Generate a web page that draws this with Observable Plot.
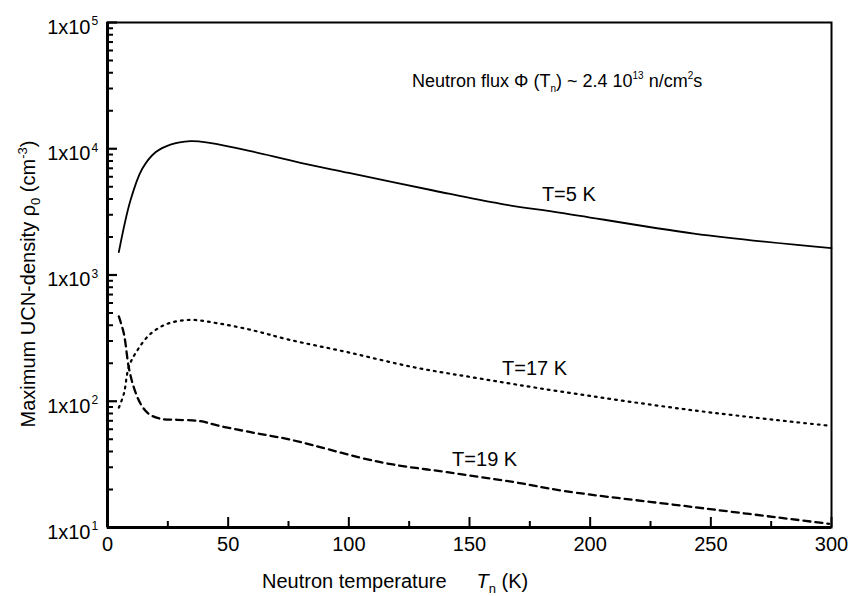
<!DOCTYPE html>
<html>
<head>
<meta charset="utf-8">
<script src="https://cdn.jsdelivr.net/npm/d3@7"></script>
<script src="https://cdn.jsdelivr.net/npm/@observablehq/plot@0.6"></script>
<style>
  html, body { margin: 0; padding: 0; background: #fff; }
  #chart { position: relative; width: 852px; height: 596px; }
  #chart svg { position: absolute; left: 0; top: 0; font-family: "Liberation Sans", Arial, Helvetica, sans-serif; }
</style>
</head>
<body>
<div id="chart"></div>
<script>
// ---- data ----
const tn5   = [4.7, 9.5, 14.4, 19.9, 26.1, 34.4, 38.5, 45.5, 59.3, 80, 100, 135, 163, 188, 243, 300];
const rho5  = [1520, 3890, 6940, 9390, 10800, 11500, 11400, 10900, 9570, 7740, 6440, 4670, 3660, 3110, 2130, 1630];
const tn17  = [4.7, 6.8, 8.8, 12.3, 17.8, 24.7, 34.4, 45.5, 59.3, 75, 99.3, 126.9, 154.6, 187, 243, 299];
const rho17 = [89, 115, 186, 252, 342, 410, 441, 415, 368, 308, 245, 186, 151, 120, 84.6, 64.0];
const tn19  = [4.7, 6.8, 8.8, 10.9, 13.7, 17.1, 22, 28.9, 38.5, 45.5, 59.3, 76, 113.1, 140.8, 168.4, 189, 243, 299];
const rho19 = [470, 342, 186, 129, 95.5, 79.5, 72.6, 71.3, 69.5, 64.3, 56.9, 49.5, 32.9, 27.4, 22.9, 19.5, 14.5, 10.7];

const xTicks = [0, 50, 100, 150, 200, 250, 300];
const xMinorTicks = [25, 75, 125, 175, 225, 275];
const yExponents = [1, 2, 3, 4, 5];
const yTicks = yExponents.map(e => Math.pow(10, e));
const yMinorTicks = [1, 2, 3, 4].flatMap(e => [2,3,4,5,6,7,8,9].map(m => m * Math.pow(10, e)));

const curveLabels = ["T=5 K", "T=17 K", "T=19 K"];
const curveLabelX = [180, 163.5, 142.8];
const curveLabelY = [4350, 180, 34.4];

const toRows = (xs, ys) => xs.map((x, i) => ({x, y: ys[i]}));
const s5 = toRows(tn5, rho5), s17 = toRows(tn17, rho17), s19 = toRows(tn19, rho19);
const labelRows = curveLabels.map((t, i) => ({t, x: curveLabelX[i], y: curveLabelY[i]}));

const W = 852, H = 596, ML = 107, MR = 21, MT = 22, MB = 69;
const PW = W - ML - MR, PH = H - MT - MB;
const common = {
  width: W, height: H,
  marginLeft: ML, marginRight: MR, marginTop: MT, marginBottom: MB,
  x: {domain: [0, 300], axis: null},
  y: {type: "log", domain: [10, 1e5], axis: null}
};

// main layer: curves and texts
const svg = Plot.plot({
  ...common,
  style: {fontFamily: '"Liberation Sans", Arial, Helvetica, sans-serif', background: "#fff", color: "#000"},
  marks: [
    Plot.line(s5,  {x: "x", y: "y", stroke: "#000", strokeWidth: 1.8, curve: "catmull-rom"}),
    Plot.line(s17, {x: "x", y: "y", stroke: "#000", strokeWidth: 2.2, strokeDasharray: "1.8,5", curve: "catmull-rom"}),
    Plot.line(s19, {x: "x", y: "y", stroke: "#000", strokeWidth: 2.3, strokeDasharray: "7,5", curve: "catmull-rom"}),
    Plot.text(xTicks, {x: d => d, frameAnchor: "bottom", dy: 23, text: d => String(d), fontSize: 20, fill: "#000"}),
    Plot.text(yTicks, {y: d => d, frameAnchor: "left", textAnchor: "end", dx: -17, dy: 5, text: () => "1x10", fontSize: 20, fill: "#000"}),
    Plot.text(yExponents, {y: d => Math.pow(10, d), frameAnchor: "left", textAnchor: "start", dx: -16, dy: -1, text: d => String(d), fontSize: 12, fill: "#000"}),
    Plot.text(labelRows, {x: "x", y: "y", text: "t", textAnchor: "start", fontSize: 20, fill: "#000"})
  ]
});

// overlay layer: frame, axis lines and inward ticks
const axes = Plot.plot({
  ...common,
  style: {background: "transparent"},
  marks: [
    Plot.frame({stroke: "#000", strokeWidth: 2}),
    Plot.ruleX([0], {stroke: "#000", strokeWidth: 3}),
    Plot.ruleY([10], {stroke: "#000", strokeWidth: 3}),
    Plot.tickY(yTicks, {y: d => d, insetRight: PW - 10, stroke: "#000", strokeWidth: 2.2}),
    Plot.tickY(yMinorTicks, {y: d => d, insetRight: PW - 6, stroke: "#000", strokeWidth: 2}),
    Plot.tickX(xTicks, {x: d => d, insetTop: PH - 10, stroke: "#000", strokeWidth: 2}),
    Plot.tickX(xMinorTicks, {x: d => d, insetTop: PH - 6, stroke: "#000", strokeWidth: 2})
  ]
});

const sel = d3.select(svg);
function addText(x, y, parts, opts = {}) {
  const t = sel.append("text")
    .attr("x", x).attr("y", y)
    .attr("fill", "#000")
    .attr("font-size", opts.size || 20)
    .attr("text-anchor", opts.anchor || "start");
  if (opts.transform) t.attr("transform", opts.transform);
  let shift = 0;
  for (const p of parts) {
    const ts = t.append("tspan").text(p.t);
    let target = 0;
    if (p.sup) target = -(opts.supShift || 8);
    if (p.sub) target = (opts.subShift || 5);
    if (target !== shift) { ts.attr("dy", target - shift); shift = target; }
    if (p.sup || p.sub) ts.attr("font-size", opts.smallSize || 12);
    if (p.italic) ts.attr("font-style", "italic");
  }
  return t;
}

// annotation
addText(412, 87, [
  {t: "Neutron flux \u03A6 (T"}, {t: "n", sub: true}, {t: ") ~ 2.4 10"}, {t: "13", sup: true},
  {t: " n/cm"}, {t: "2", sup: true}, {t: "s"}
], {size: 18, smallSize: 10});

// x-axis title
addText(262, 588, [
  {t: "Neutron temperature\u2003\u2002"}, {t: "T", italic: true}, {t: "n", sub: true}, {t: " (K)"}
], {size: 20, smallSize: 13});

// y-axis title
addText(0, 0, [
  {t: "Maximum UCN-density \u03C1"}, {t: "0", sub: true}, {t: " (cm"}, {t: "-3", sup: true}, {t: ")"}
], {size: 20, smallSize: 13, anchor: "middle", transform: "translate(35,284) rotate(-90)"});

const host = document.getElementById("chart");
host.appendChild(svg);
host.appendChild(axes);
</script>
</body>
</html>
